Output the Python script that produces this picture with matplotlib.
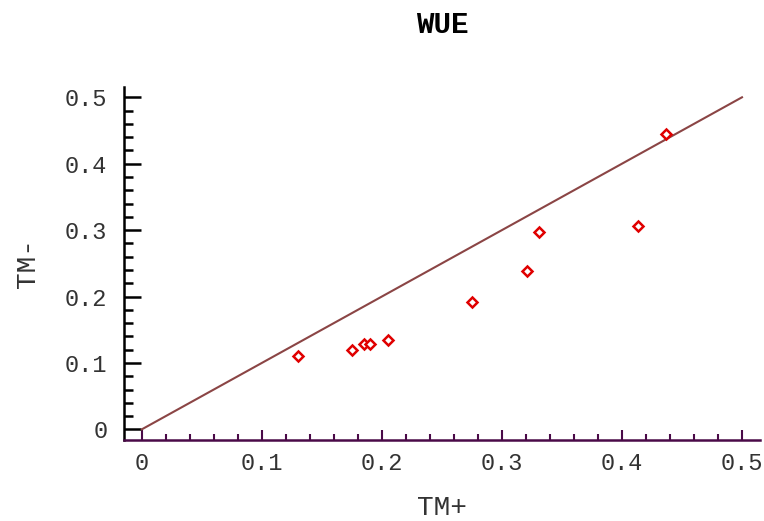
import matplotlib
matplotlib.use("Agg")
import matplotlib.pyplot as plt
from matplotlib.ticker import MultipleLocator, FixedFormatter

# Measurements: TM+ vs TM- water-use efficiency
tm_plus = [0.130, 0.175, 0.185, 0.190, 0.205, 0.275, 0.321, 0.331, 0.413, 0.437]
tm_minus = [0.111, 0.120, 0.129, 0.129, 0.135, 0.192, 0.238, 0.297, 0.306, 0.445]

# 1:1 reference line
ref_x = [0.0, 0.5]
ref_y = [0.0, 0.5]

tick_values = [0.0, 0.1, 0.2, 0.3, 0.4, 0.5]
tick_labels = ["0", "0.1", "0.2", "0.3", "0.4", "0.5"]

mono = "Liberation Mono"
axis_purple = "#4a0a48"
label_gray = "#333333"

fig = plt.figure(figsize=(7.64, 5.21), dpi=100)
ax = fig.add_axes([124 / 764, 81 / 521, 636 / 764, 353 / 521])

ax.plot(ref_x, ref_y, color="#8b4545", lw=1.5, zorder=2)
ax.plot(tm_plus, tm_minus, linestyle="none", marker="D", ms=5.5,
        mfc="white", mec="#e00000", mew=1.8, zorder=3)

ax.set_xlim(-0.0148, 0.515)
ax.set_ylim(-0.016, 0.5155)

for side in ("top", "right"):
    ax.spines[side].set_visible(False)
ax.spines["left"].set_color("black")
ax.spines["left"].set_linewidth(1.8)
ax.spines["bottom"].set_color(axis_purple)
ax.spines["bottom"].set_linewidth(1.8)

ax.set_xticks(tick_values)
ax.set_yticks(tick_values)
ax.xaxis.set_major_formatter(FixedFormatter(tick_labels))
ax.yaxis.set_major_formatter(FixedFormatter(tick_labels))
ax.xaxis.set_minor_locator(MultipleLocator(0.02))
ax.yaxis.set_minor_locator(MultipleLocator(0.02))

ax.tick_params(axis="y", which="major", direction="in", length=12.5, width=1.8,
               color="black", pad=12, labelsize=17, labelcolor=label_gray)
ax.tick_params(axis="y", which="minor", direction="in", length=6.5, width=1.8,
               color="black")
ax.tick_params(axis="x", which="major", direction="in", length=7, width=1.5,
               color=axis_purple, pad=9, labelsize=17, labelcolor=label_gray)
ax.tick_params(axis="x", which="minor", direction="in", length=4, width=1.5,
               color=axis_purple)
for lab in ax.get_xticklabels() + ax.get_yticklabels():
    lab.set_fontfamily(mono)

ax.set_xlabel("TM+", fontfamily=mono, fontsize=20, color=label_gray, labelpad=14)
ax.set_ylabel("TM-", fontfamily=mono, fontsize=20, color=label_gray, labelpad=17)
ax.set_title("WUE", fontfamily=mono, fontsize=21, fontweight="bold", pad=39)

fig.savefig("out.png", dpi=100)
